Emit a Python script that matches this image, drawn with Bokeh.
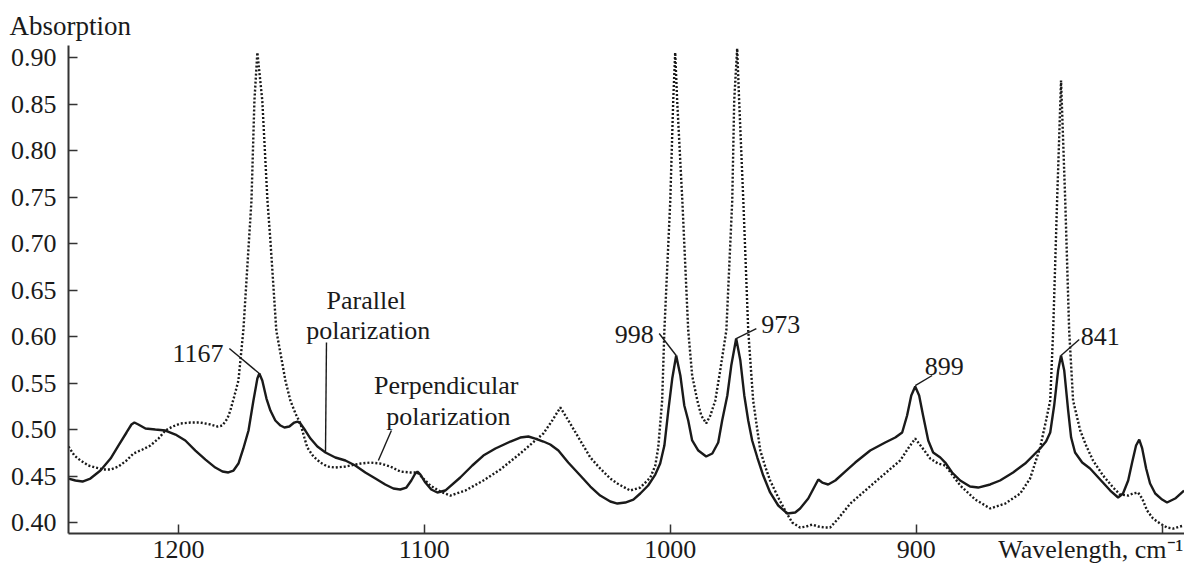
from bokeh.plotting import figure
from bokeh.models import Range1d, FixedTicker, PrintfTickFormatter, Label, LinearAxis
from bokeh.embed import file_html
from bokeh.resources import INLINE

# Parallel polarization (solid line)
par_x = [1244.7, 1241.9, 1239.0, 1235.8, 1231.7, 1227.6, 1224.4, 1221.1, 1219.1, 1217.9,
         1216.3, 1213.4, 1209.4, 1205.3, 1201.2, 1197.2, 1193.1, 1189.0, 1185.0, 1182.1,
         1179.7, 1177.6, 1175.6, 1173.6, 1171.5, 1169.5, 1167.9, 1167.1, 1165.9, 1164.2,
         1162.6, 1160.6, 1158.5, 1156.9, 1154.9, 1152.9, 1151.6, 1150.4, 1148.4, 1146.3,
         1143.5, 1140.2, 1136.2, 1132.1, 1128.1, 1124.0, 1119.9, 1115.9, 1112.6, 1109.8,
         1107.3, 1105.3, 1103.7, 1102.8, 1101.6, 1099.6, 1097.2, 1094.7, 1091.5, 1085.4,
         1080.5, 1076.0, 1071.1, 1065.0, 1061.0, 1057.7, 1054.9, 1051.6, 1048.8, 1045.5,
         1041.5, 1036.6, 1032.5, 1028.5, 1024.4, 1021.5, 1018.3, 1015.0, 1012.2, 1009.0,
         1006.1, 1004.1, 1002.4, 1000.8, 999.2, 997.6, 995.9, 994.3, 992.7, 991.1,
         988.6, 985.4, 982.9, 980.5, 978.9, 976.8, 975.2, 973.2, 971.5, 969.9,
         968.3, 966.7, 964.6, 962.2, 959.4, 956.1, 952.4, 949.2, 947.2, 943.9,
         941.1, 939.8, 938.2, 935.8, 932.9, 928.9, 924.8, 918.7, 912.6, 908.5,
         905.7, 903.7, 902.0, 900.4, 898.8, 897.2, 895.1, 893.1, 890.2, 888.2,
         885.4, 882.1, 878.1, 874.8, 869.9, 865.9, 860.6, 855.7, 849.6, 847.2,
         845.5, 843.9, 842.3, 841.1, 839.8, 838.2, 837.0, 835.4, 832.5, 829.3,
         825.2, 821.1, 817.9, 815.9, 813.8, 812.2, 810.6, 809.3, 808.1, 806.5,
         804.9, 802.8, 800.0, 798.0, 794.7, 791.1]
par_y = [0.4473, 0.4452, 0.4441, 0.4473, 0.4559, 0.4688, 0.4828, 0.4968, 0.5054, 0.5075,
         0.5054, 0.5011, 0.5000, 0.4989, 0.4946, 0.4882, 0.4774, 0.4677, 0.4591, 0.4548,
         0.4538, 0.4559, 0.4634, 0.4796, 0.4989, 0.5312, 0.5548, 0.5602, 0.5527, 0.5333,
         0.5204, 0.5097, 0.5043, 0.5022, 0.5032, 0.5075, 0.5086, 0.5065, 0.4989, 0.4903,
         0.4817, 0.4753, 0.4699, 0.4667, 0.4613, 0.4538, 0.4473, 0.4409, 0.4366, 0.4355,
         0.4376, 0.4452, 0.4527, 0.4548, 0.4516, 0.4430, 0.4355, 0.4323, 0.4344, 0.4484,
         0.4613, 0.4720, 0.4796, 0.4871, 0.4914, 0.4925, 0.4903, 0.4871, 0.4839, 0.4774,
         0.4645, 0.4505, 0.4387, 0.4290, 0.4226, 0.4204, 0.4215, 0.4247, 0.4312, 0.4398,
         0.4516, 0.4634, 0.4828, 0.5204, 0.5548, 0.5796, 0.5581, 0.5258, 0.5097, 0.4882,
         0.4774, 0.4710, 0.4742, 0.4860, 0.5097, 0.5366, 0.5688, 0.5978, 0.5742, 0.5366,
         0.5097, 0.4882, 0.4699, 0.4505, 0.4323, 0.4183, 0.4097, 0.4108, 0.4151, 0.4258,
         0.4398, 0.4462, 0.4430, 0.4409, 0.4452, 0.4548, 0.4645, 0.4774, 0.4860, 0.4914,
         0.4968, 0.5151, 0.5366, 0.5462, 0.5366, 0.5151, 0.4882, 0.4753, 0.4699, 0.4645,
         0.4538, 0.4452, 0.4387, 0.4376, 0.4409, 0.4452, 0.4538, 0.4634, 0.4796, 0.4871,
         0.4968, 0.5258, 0.5634, 0.5796, 0.5634, 0.5204, 0.4914, 0.4753, 0.4645, 0.4581,
         0.4462, 0.4344, 0.4269, 0.4312, 0.4452, 0.4645, 0.4828, 0.4892, 0.4796, 0.4581,
         0.4419, 0.4312, 0.4247, 0.4215, 0.4258, 0.4344]

# Perpendicular polarization (dotted line)
perp_x = [1244.7, 1242.3, 1239.8, 1236.6, 1233.7, 1230.5, 1227.6, 1224.4, 1221.1, 1218.3,
          1214.6, 1211.4, 1208.1, 1205.3, 1202.4, 1199.2, 1195.1, 1191.1, 1187.0, 1184.1,
          1182.1, 1180.1, 1178.9, 1177.2, 1175.6, 1173.6, 1170.3, 1169.1, 1167.9, 1165.9,
          1163.8, 1162.6, 1160.2, 1156.5, 1154.5, 1152.4, 1150.4, 1148.8, 1147.6, 1145.1,
          1142.3, 1139.4, 1136.2, 1132.1, 1126.0, 1122.0, 1117.9, 1113.8, 1109.8, 1105.7,
          1102.8, 1100.4, 1097.6, 1093.5, 1089.4, 1083.3, 1076.0, 1069.1, 1061.0, 1054.9,
          1051.6, 1048.0, 1044.7, 1042.7, 1040.7, 1036.6, 1032.5, 1028.5, 1024.4, 1021.5,
          1016.3, 1012.2, 1008.1, 1006.1, 1004.9, 1003.3, 1002.4, 1000.0, 998.8, 998.0,
          997.2, 995.1, 992.7, 991.1, 989.0, 987.4, 985.4, 983.7, 981.7, 979.7,
          977.2, 974.8, 974.0, 972.8, 972.0, 970.3, 968.3, 966.3, 963.4, 961.4,
          959.4, 956.1, 953.3, 950.4, 947.2, 944.7, 942.3, 939.8, 937.0, 935.0,
          931.7, 926.8, 920.7, 914.6, 906.5, 903.3, 900.4, 897.6, 894.3, 891.1,
          888.2, 885.4, 882.1, 876.0, 869.9, 863.8, 857.7, 853.7, 849.6, 847.2,
          845.5, 844.3, 842.7, 841.1, 839.4, 837.8, 836.2, 833.3, 830.9, 828.1,
          824.0, 819.9, 817.1, 813.8, 811.8, 809.8, 808.1, 806.1, 803.7, 800.8,
          798.0, 795.5, 792.7, 791.1]
perp_y = [0.4817, 0.4720, 0.4667, 0.4613, 0.4591, 0.4570, 0.4570, 0.4602, 0.4667, 0.4742,
          0.4785, 0.4828, 0.4903, 0.4989, 0.5032, 0.5065, 0.5075, 0.5075, 0.5054, 0.5032,
          0.5043, 0.5118, 0.5204, 0.5366, 0.5527, 0.6065, 0.7462, 0.8538, 0.9054, 0.8538,
          0.7462, 0.7032, 0.6065, 0.5527, 0.5312, 0.5172, 0.5065, 0.4914, 0.4806, 0.4710,
          0.4645, 0.4602, 0.4591, 0.4602, 0.4634, 0.4645, 0.4634, 0.4602, 0.4548, 0.4538,
          0.4538, 0.4473, 0.4398, 0.4333, 0.4290, 0.4344, 0.4452, 0.4570, 0.4742, 0.4882,
          0.4957, 0.5097, 0.5237, 0.5151, 0.5065, 0.4882, 0.4699, 0.4581, 0.4473, 0.4419,
          0.4344, 0.4376, 0.4484, 0.4613, 0.4806, 0.5312, 0.6065, 0.7462, 0.8538, 0.9054,
          0.8538, 0.7462, 0.6065, 0.5581, 0.5312, 0.5151, 0.5065, 0.5151, 0.5312, 0.5634,
          0.6065, 0.7462, 0.8538, 0.9097, 0.8538, 0.7462, 0.6065, 0.5312, 0.4774, 0.4602,
          0.4452, 0.4269, 0.4129, 0.4000, 0.3946, 0.3957, 0.3978, 0.3957, 0.3946, 0.3946,
          0.4043, 0.4204, 0.4344, 0.4484, 0.4667, 0.4796, 0.4903, 0.4806, 0.4688, 0.4634,
          0.4613, 0.4516, 0.4398, 0.4247, 0.4151, 0.4204, 0.4312, 0.4473, 0.4806, 0.5097,
          0.5312, 0.6065, 0.7462, 0.8753, 0.7462, 0.6065, 0.5312, 0.4989, 0.4828, 0.4667,
          0.4505, 0.4376, 0.4301, 0.4290, 0.4312, 0.4323, 0.4258, 0.4129, 0.4043, 0.3989,
          0.3946, 0.3935, 0.3957, 0.3968]

y_ticks = [0.40, 0.45, 0.50, 0.55, 0.60, 0.65, 0.70, 0.75, 0.80, 0.85, 0.90]
x_ticks = [1200, 1100, 1000, 900, 800]
x_label_ticks = [1200, 1100, 1000, 900]
x_title_tick = 829
x_title = "Wavelength, cm\u207b\u00b9"
y_title = "Absorption"

peak_labels = ["1167", "998", "973", "899", "841"]

FONT = "Liberation Serif"
INK = "#1a1a1a"
AXC = "#333333"

p = figure(width=1184, height=566, output_backend="svg", toolbar_location=None,
           x_range=Range1d(1244.7, 790.9), y_range=Range1d(0.3882, 0.9129),
           min_border_left=68, min_border_right=0, min_border_top=45, min_border_bottom=33)
p.background_fill_color = "white"
p.border_fill_color = "white"
p.outline_line_color = None
p.grid.visible = False

p.title.text = y_title
p.title.align = "left"
p.title.offset = -59
p.title.text_font = FONT
p.title.text_font_size = "27px"
p.title.text_font_style = "normal"
p.title.text_color = INK
p.title.standoff = 9

# axis with the tick marks (x); its labels are not drawn
xa = p.xaxis[0]
xa.ticker = FixedTicker(ticks=x_ticks)
xa.axis_line_color = AXC
xa.axis_line_width = 2
xa.major_tick_line_color = AXC
xa.major_tick_line_width = 1.5
xa.major_tick_in = 9
xa.major_tick_out = 0
xa.minor_tick_line_color = None
xa.major_label_text_color = None
xa.major_label_standoff = 0

# axis carrying the x tick labels and the axis title
overrides = {t: str(t) for t in x_label_ticks}
overrides[x_title_tick] = x_title
xb = LinearAxis(ticker=FixedTicker(ticks=x_label_ticks + [x_title_tick]),
                major_label_overrides=overrides,
                axis_line_color=None, major_tick_line_color=None, minor_tick_line_color=None,
                major_tick_in=0, major_tick_out=0, major_label_standoff=1,
                major_label_text_font=FONT, major_label_text_font_size="26px",
                major_label_text_color=INK)
p.add_layout(xb, "below")

ya = p.yaxis[0]
ya.ticker = FixedTicker(ticks=y_ticks)
ya.formatter = PrintfTickFormatter(format="%.2f")
ya.axis_line_color = AXC
ya.axis_line_width = 2
ya.major_tick_line_color = AXC
ya.major_tick_line_width = 1.5
ya.major_tick_in = 9
ya.major_tick_out = 0
ya.minor_tick_line_color = None
ya.major_label_text_font = FONT
ya.major_label_text_font_size = "26px"
ya.major_label_text_color = INK
ya.major_label_standoff = 12

p.line(perp_x, perp_y, line_color=INK, line_width=2.4, line_dash="2 2")
p.line(par_x, par_y, line_color=INK, line_width=2.4)

# pointer lines
ptr_x0 = [1179.3, 1139.8, 1113.4, 1004.5, 965.0, 893.5, 833.7]
ptr_y0 = [0.5871, 0.5935, 0.4989, 0.6032, 0.6086, 0.5581, 0.5968]
ptr_x1 = [1167.1, 1140.2, 1118.7, 997.6, 973.2, 900.4, 841.1]
ptr_y1 = [0.5602, 0.4753, 0.4667, 0.5796, 0.5978, 0.5473, 0.5796]
p.segment(ptr_x0, ptr_y0, ptr_x1, ptr_y1, line_color=INK, line_width=1.4)

def lab(x, y, text, align="center", size="26px"):
    p.add_layout(Label(x=x, y=y, text=text, text_align=align, text_baseline="alphabetic",
                       text_font=FONT, text_font_size=size, text_color=INK))

lab(1123.6, 0.6387, "Parallel")
lab(1122.8, 0.6065, "polarization")
lab(1091.1, 0.5473, "Perpendicular")
lab(1090.2, 0.5140, "polarization")
lab(1181.7, 0.5817, peak_labels[0], align="right")
lab(1014.6, 0.6022, peak_labels[1])
lab(955.1, 0.6129, peak_labels[2])
lab(888.6, 0.5677, peak_labels[3])
lab(825.2, 0.6000, peak_labels[4])

open("out.html", "w").write(file_html(p, INLINE))
